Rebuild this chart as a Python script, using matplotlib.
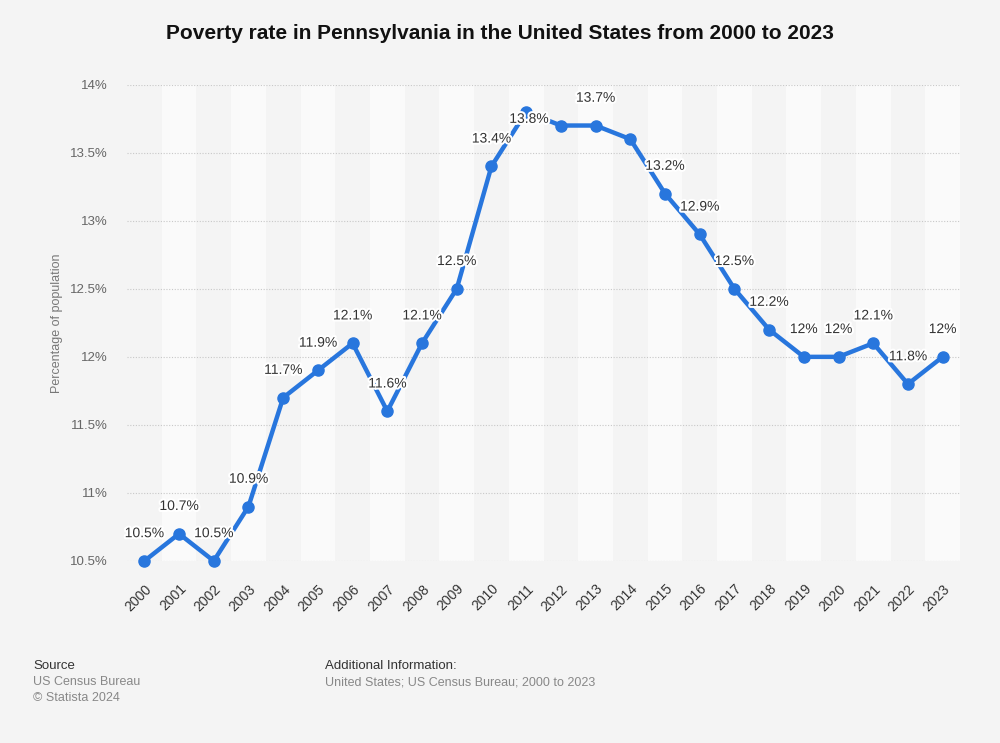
import matplotlib
matplotlib.use("Agg")
import matplotlib.pyplot as plt
import matplotlib.patheffects as pe

plt.rcParams['font.family'] = ['Liberation Sans', 'DejaVu Sans']

# Poverty rate data
years = ['2000', '2001', '2002', '2003', '2004', '2005', '2006', '2007', '2008', '2009', '2010', '2011',
         '2012', '2013', '2014', '2015', '2016', '2017', '2018', '2019', '2020', '2021', '2022', '2023']
rates = [10.5, 10.7, 10.5, 10.9, 11.7, 11.9, 12.1, 11.6, 12.1, 12.5, 13.4, 13.8,
         13.7, 13.7, 13.6, 13.2, 12.9, 12.5, 12.2, 12.0, 12.0, 12.1, 11.8, 12.0]
labels = ['10.5%', '10.7%', '10.5%', '10.9%', '11.7%', '11.9%', '12.1%', '11.6%', '12.1%', '12.5%', '13.4%', '13.8%',
          '', '13.7%', '', '13.2%', '12.9%', '12.5%', '12.2%', '12%', '12%', '12.1%', '11.8%', '12%']
yticks = [10.5, 11, 11.5, 12, 12.5, 13, 13.5, 14]
ytick_labels = ['10.5%', '11%', '11.5%', '12%', '12.5%', '13%', '13.5%', '14%']

bg = '#f4f4f4'
fig = plt.figure(figsize=(10, 7.43), dpi=100, facecolor=bg)
ax = fig.add_axes([0.127, 0.245, 0.833, 0.641])
ax.set_facecolor(bg)

x = list(range(len(years)))

# alternating column bands
for i in x:
    if i % 2 == 1:
        ax.axvspan(i - 0.5, i + 0.5, color='#fafafa', zorder=0, lw=0)

for yt in yticks:
    ax.axhline(yt, color='#c8c8c8', lw=0.8, ls=(0, (1, 1.5)), zorder=1)

ax.plot(x, rates, color='#2876dd', lw=3.2, marker='o', markersize=8, zorder=3,
        solid_capstyle='round', solid_joinstyle='round', clip_on=False)

# data labels, white halo
for i, (v, lab) in enumerate(zip(rates, labels)):
    if not lab:
        continue
    if years[i] == '2011':
        dx, dy = 2, -5   # top of chart, label pushed down onto the point
    else:
        dx, dy = 0, 20
    ax.annotate(lab, (i, v), xytext=(dx, dy), textcoords='offset points',
                ha='center', va='center', fontsize=10, color='#333333', zorder=4,
                path_effects=[pe.withStroke(linewidth=3, foreground='white')])

ax.set_xlim(-0.5, len(years) - 0.5)
ax.set_ylim(10.5, 14)
ax.set_xticks(x)
ax.set_xticklabels(years, rotation=45, ha='right', rotation_mode='anchor', fontsize=10, color='#333333')
ax.set_yticks(yticks)
ax.set_yticklabels(ytick_labels, fontsize=9.5, color='#666666')
ax.tick_params(axis='both', length=0)
ax.tick_params(axis='y', pad=14)
ax.tick_params(axis='x', pad=15)
for s in ax.spines.values():
    s.set_visible(False)

ax.set_ylabel('Percentage of population', fontsize=9, color='#777777', labelpad=5)

fig.text(0.5, 0.955, 'Poverty rate in Pennsylvania in the United States from 2000 to 2023',
         ha='center', va='center', fontsize=15, fontweight='bold', color='#111111')

# footer
fig.text(0.033, 0.103, 'Source', fontsize=9.5, color='#333333', va='center')
fig.text(0.033, 0.082, 'US Census Bureau', fontsize=9, color='#888888', va='center')
fig.text(0.033, 0.061, '\u00a9 Statista 2024', fontsize=9, color='#888888', va='center')
fig.text(0.325, 0.103, 'Additional Information:', fontsize=9.5, color='#333333', va='center')
fig.text(0.325, 0.082, 'United States; US Census Bureau; 2000 to 2023', fontsize=9, color='#888888', va='center')

fig.savefig('out.png', dpi=100, facecolor=bg)
